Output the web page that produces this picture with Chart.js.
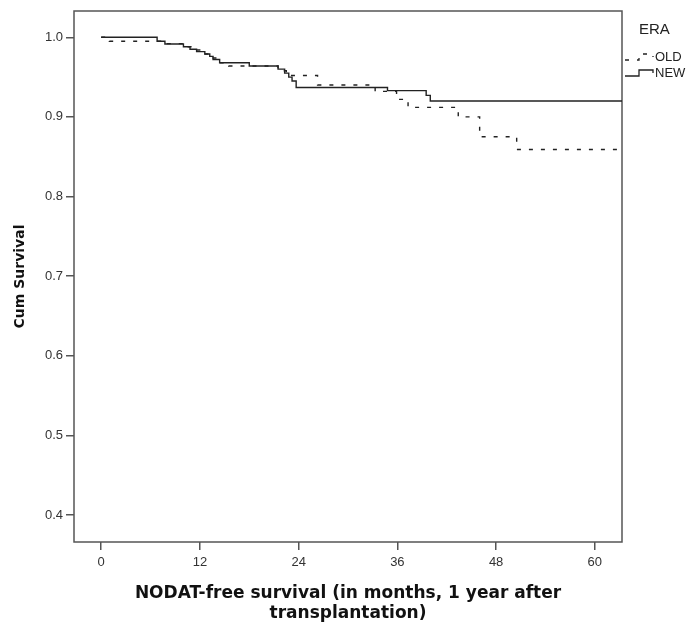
<!DOCTYPE html>
<html>
<head>
<meta charset="utf-8">
<title>NODAT-free survival by era</title>
<script src="https://cdn.jsdelivr.net/npm/chart.js@4.4.1/dist/chart.umd.min.js"></script>
<style>
    html, body { margin: 0; padding: 0; background: #fff; }
    canvas { display: block; }
</style>
</head>
<body>
<canvas id="kmChart" width="688" height="623"></canvas>
<script>
// Kaplan-Meier steps: month of each step and survival after it
const oldMonths   = [0, 1, 7.5, 10, 11, 12.5, 13.5, 14.5, 15.5, 21.5, 22.5, 26.3, 33.3, 35.9, 37.3, 43.4, 46, 50.5, 63.3];
const oldSurvival = [1.0, 0.995, 0.992, 0.988, 0.984, 0.979, 0.974, 0.968, 0.964, 0.958, 0.952, 0.940, 0.932, 0.922, 0.912, 0.900, 0.875, 0.859, 0.859];

const newMonths   = [0, 6.8, 7.75, 10, 10.8, 11.6, 12.6, 13.2, 13.6, 14.4, 18, 21.5, 22.3, 22.8, 23.2, 23.7, 34.8, 39.5, 40, 63.3];
const newSurvival = [1.0, 0.995, 0.9915, 0.988, 0.985, 0.982, 0.979, 0.976, 0.972, 0.968, 0.964, 0.960, 0.955, 0.950, 0.945, 0.937, 0.933, 0.927, 0.920, 0.920];

const xTicks = [0, 12, 24, 36, 48, 60];
const yTicks = [0.4, 0.5, 0.6, 0.7, 0.8, 0.9, 1.0];

const groupTitle = 'ERA';
const seriesNames = ['OLD', 'NEW'];

const FONT = "'Liberation Sans', Arial, sans-serif";
const TITLE_FONT = "'DejaVu Sans', Verdana, sans-serif";
const INK = '#222';
const FRAME = '#555';

function toPoints(months, values) {
    return months.map((m, i) => ({ x: m, y: values[i] }));
}

// Box around the plotting area
const framePlugin = {
    id: 'frame',
    beforeDatasetsDraw(chart) {
        const { ctx, chartArea: a } = chart;
        ctx.save();
        ctx.strokeStyle = FRAME;
        ctx.lineWidth = 1.5;
        ctx.strokeRect(a.left, a.top, a.right - a.left, a.bottom - a.top);
        ctx.restore();
    }
};

// SPSS-style legend on the right with small step samples
const eraLegend = {
    id: 'eraLegend',
    afterDraw(chart) {
        const { ctx, chartArea: a } = chart;
        const x0 = a.right + 3;
        ctx.save();
        ctx.fillStyle = INK;
        ctx.textBaseline = 'middle';
        ctx.font = '15px ' + FONT;
        ctx.fillText(groupTitle, x0 + 14, 30);

        ctx.font = '13px ' + FONT;
        chart.data.datasets.forEach((ds, i) => {
            const y = 57 + i * 16;
            ctx.strokeStyle = ds.borderColor;
            ctx.lineWidth = 1.3;
            ctx.setLineDash(ds.borderDash || []);
            ctx.beginPath();
            ctx.moveTo(x0, y + 3);
            ctx.lineTo(x0 + 14, y + 3);
            ctx.lineTo(x0 + 14, y - 3);
            ctx.lineTo(x0 + 28, y - 3);
            ctx.lineTo(x0 + 28, y);
            ctx.stroke();
            ctx.setLineDash([]);
            ctx.fillText(ds.label, x0 + 30, y);
        });
        ctx.restore();
    }
};

const chart = new Chart('kmChart', {
    type: 'line',
    data: {
        datasets: [
            {
                label: seriesNames[0],
                data: toPoints(oldMonths, oldSurvival),
                borderColor: INK,
                borderWidth: 1.4,
                borderDash: [4, 8],
                stepped: 'before',
                pointRadius: 0,
                fill: false
            },
            {
                label: seriesNames[1],
                data: toPoints(newMonths, newSurvival),
                borderColor: INK,
                borderWidth: 1.4,
                stepped: 'before',
                pointRadius: 0,
                fill: false
            }
        ]
    },
    options: {
        responsive: false,
        animation: false,
        layout: { padding: { top: 11, right: 66, left: 0, bottom: 0 } },
        plugins: {
            legend: { display: false },
            tooltip: { enabled: false }
        },
        scales: {
            x: {
                type: 'linear',
                min: -3.3,
                max: 63.3,
                afterBuildTicks: scale => { scale.ticks = xTicks.map(v => ({ value: v })); },
                afterFit: scale => { scale.height = 81; },
                ticks: {
                    color: '#333',
                    font: { family: FONT, size: 13 },
                    padding: 5,
                    maxRotation: 0
                },
                grid: { drawOnChartArea: false, tickLength: 8, color: FRAME, lineWidth: 1.5 },
                border: { display: false },
                title: {
                    display: true,
                    text: ['NODAT-free survival (in months, 1 year after', 'transplantation)'],
                    color: '#111',
                    font: { family: TITLE_FONT, size: 17, weight: 'bold', lineHeight: 1.15 },
                    padding: { top: 6, bottom: 0 }
                }
            },
            y: {
                type: 'linear',
                min: 0.366,
                max: 1.033,
                afterBuildTicks: scale => { scale.ticks = yTicks.map(v => ({ value: v })); },
                afterFit: scale => { scale.width = 74; },
                ticks: {
                    color: '#333',
                    font: { family: FONT, size: 13 },
                    padding: 3,
                    callback: v => v.toFixed(1)
                },
                grid: { drawOnChartArea: false, tickLength: 8, color: FRAME, lineWidth: 1.5 },
                border: { display: false },
                title: {
                    display: true,
                    text: 'Cum Survival',
                    color: '#111',
                    font: { family: TITLE_FONT, size: 14, weight: 'bold' },
                    padding: { top: 12, bottom: 0 }
                }
            }
        }
    },
    plugins: [framePlugin, eraLegend]
});
</script>
</body>
</html>
